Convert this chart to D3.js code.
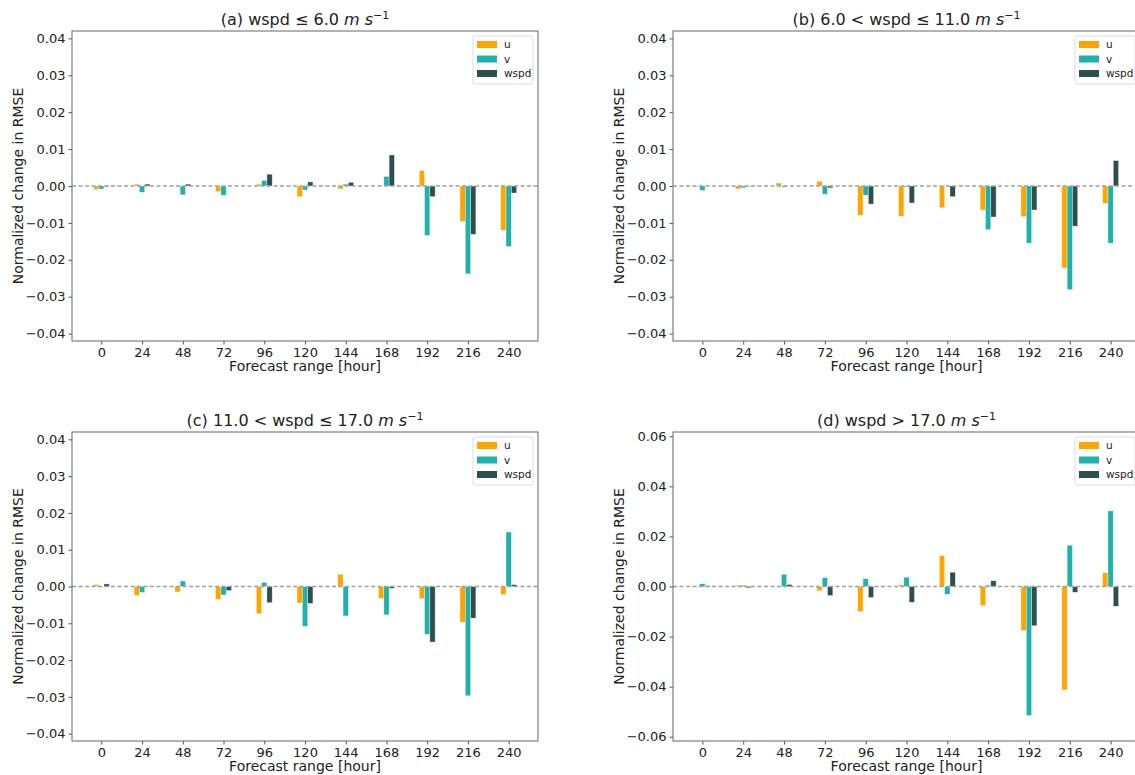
<!DOCTYPE html>
<html lang="en">
<head>
    <meta charset="utf8">
    <title>Normalized change in RMSE</title>
    <script src="https://d3js.org/d3.v7.min.js"></script>
    <style>
        body { margin: 0; background: #fff; }
        svg { display: block; font-family: "DejaVu Sans", sans-serif; }
    </style>
</head>
<body>
    <svg id="chart" width="1135" height="775"></svg>
    <script>
        // forecast hours (categories) and series names
        const hours = [0, 24, 48, 72, 96, 120, 144, 168, 192, 216, 240];
        const seriesNames = ["u", "v", "wspd"];
        const seriesColors = ["#ffa500", "#20b2aa", "#2f4f4f"];

        // (a) wspd <= 6
        const aU    = [-0.0009, 0.0005, -0.0001, -0.0015, 0.0005, -0.0029, -0.0008, 0.0001, 0.0042, -0.0096, -0.0120];
        const aV    = [-0.0008, -0.0017, -0.0024, -0.0025, 0.0015, -0.0011, 0.0005, 0.0026, -0.0134, -0.0238, -0.0164];
        const aWspd = [-0.0001, 0.0005, 0.0005, 0.0000, 0.0032, 0.0011, 0.0010, 0.0084, -0.0029, -0.0131, -0.0019];
        // (b) 6 < wspd <= 11
        const bU    = [-0.0002, -0.0008, 0.0008, 0.0013, -0.0079, -0.0082, -0.0059, -0.0065, -0.0083, -0.0222, -0.0047];
        const bV    = [-0.0012, -0.0005, -0.0003, -0.0022, -0.0025, -0.0003, 0.0000, -0.0118, -0.0155, -0.0281, -0.0155];
        const bWspd = [0.0000, -0.0001, 0.0000, -0.0005, -0.0049, -0.0046, -0.0029, -0.0084, -0.0065, -0.0109, 0.0069];
        // (c) 11 < wspd <= 17
        const cU    = [0.0005, -0.0024, -0.0015, -0.0035, -0.0074, -0.0045, 0.0033, -0.0032, -0.0033, -0.0097, -0.0022];
        const cV    = [0.0001, -0.0016, 0.0015, -0.0023, 0.0011, -0.0108, -0.0080, -0.0077, -0.0130, -0.0297, 0.0148];
        const cWspd = [0.0007, -0.0001, 0.0000, -0.0011, -0.0044, -0.0046, 0.0000, -0.0005, -0.0151, -0.0086, 0.0005];
        // (d) wspd > 17
        const dU    = [0.0001, 0.0005, 0.0000, -0.0017, -0.0100, 0.0007, 0.0123, -0.0077, -0.0176, -0.0413, 0.0055];
        const dV    = [0.0011, 0.0005, 0.0049, 0.0035, 0.0031, 0.0037, -0.0031, 0.0005, -0.0515, 0.0165, 0.0302];
        const dWspd = [0.0003, -0.0005, 0.0008, -0.0036, -0.0044, -0.0063, 0.0057, 0.0023, -0.0157, -0.0023, -0.0079];

        const ticksSmall = [-0.04, -0.03, -0.02, -0.01, 0, 0.01, 0.02, 0.03, 0.04];
        const ticksLarge = [-0.06, -0.04, -0.02, 0, 0.02, 0.04, 0.06];

        const panels = [
            { pre: "(a) wspd ≤ 6.0 ", series: [aU, aV, aWspd], lim: 0.042, ticks: ticksSmall,
              left: 72, top: 31, w: 466, h: 310 },
            { pre: "(b) 6.0 < wspd ≤ 11.0 ", series: [bU, bV, bWspd], lim: 0.042, ticks: ticksSmall,
              left: 673, top: 31, w: 467, h: 310 },
            { pre: "(c) 11.0 < wspd ≤ 17.0 ", series: [cU, cV, cWspd], lim: 0.042, ticks: ticksSmall,
              left: 72, top: 432, w: 466, h: 309 },
            { pre: "(d) wspd > 17.0 ", series: [dU, dV, dWspd], lim: 0.0617, ticks: ticksLarge,
              left: 673, top: 432, w: 467, h: 309 }
        ];

        const svg = d3.select("#chart");
        const barW = 0.13;
        const fmt = d3.format(".2f");

        panels.forEach(p => {
            const g = svg.append("g").attr("transform", `translate(${p.left},${p.top})`);

            const x = d3.scaleLinear().domain([-0.72, hours.length - 1 + 0.72]).range([0, p.w]);
            const y = d3.scaleLinear().domain([-p.lim, p.lim]).range([p.h, 0]);

            // bars
            p.series.forEach((vals, k) => {
                g.append("g").selectAll("rect")
                    .data(vals)
                    .join("rect")
                    .attr("x", (d, i) => x(i + (k - 1) * barW - barW / 2))
                    .attr("width", x(barW) - x(0))
                    .attr("y", d => y(Math.max(0, d)))
                    .attr("height", d => Math.abs(y(d) - y(0)))
                    .attr("fill", seriesColors[k])
                    .attr("stroke", "#fff")
                    .attr("stroke-opacity", 0.6)
                    .attr("stroke-width", 0.6);
            });

            // zero line
            g.append("line")
                .attr("x1", 0).attr("x2", p.w)
                .attr("y1", y(0)).attr("y2", y(0))
                .attr("stroke", "#a0a0a0")
                .attr("stroke-width", 1.5)
                .attr("stroke-dasharray", "4,2.5");

            // axes
            const xAxis = g.append("g")
                .attr("transform", `translate(0,${p.h})`)
                .call(d3.axisBottom(x).tickValues(d3.range(hours.length))
                    .tickFormat(i => hours[i]).tickSize(3.5).tickPadding(3));
            const yAxis = g.append("g")
                .call(d3.axisLeft(y).tickValues(p.ticks).tickFormat(fmt).tickSize(3.5).tickPadding(3));
            [xAxis, yAxis].forEach(a => {
                a.select(".domain").remove();
                a.selectAll("line").attr("stroke", "#555");
                a.selectAll("text").attr("fill", "#222").style("font-size", "13px")
                    .style("font-family", "DejaVu Sans, sans-serif");
            });

            // frame
            g.append("rect")
                .attr("width", p.w).attr("height", p.h)
                .attr("fill", "none")
                .attr("stroke", "#666")
                .attr("stroke-width", 1);

            // title
            const t = g.append("text")
                .attr("x", p.w / 2).attr("y", -6)
                .attr("text-anchor", "middle")
                .attr("fill", "#222")
                .style("font-size", "16px");
            t.append("tspan").text(p.pre);
            t.append("tspan").attr("font-style", "italic").text("m s");
            t.append("tspan").attr("dy", -6).style("font-size", "11px").text("−1");

            // axis labels
            g.append("text")
                .attr("x", p.w / 2).attr("y", p.h + 30)
                .attr("text-anchor", "middle")
                .attr("fill", "#222")
                .style("font-size", "14px")
                .text("Forecast range [hour]");
            g.append("text")
                .attr("transform", `translate(-54,${p.h / 2}) rotate(-90)`)
                .attr("text-anchor", "middle")
                .attr("dy", "0.35em")
                .attr("fill", "#222")
                .style("font-size", "14px")
                .text("Normalized change in RMSE");

            // legend
            const lg = g.append("g").attr("transform", `translate(${p.w - 65},5)`);
            lg.append("rect")
                .attr("width", 60).attr("height", 48).attr("rx", 2)
                .attr("fill", "#fff").attr("fill-opacity", 0.8)
                .attr("stroke", "#ddd");
            seriesNames.forEach((name, k) => {
                lg.append("rect")
                    .attr("x", 4).attr("y", 5 + k * 14.5)
                    .attr("width", 20).attr("height", 7)
                    .attr("fill", seriesColors[k]);
                lg.append("text")
                    .attr("x", 31).attr("y", 8.5 + k * 14.5)
                    .attr("dy", "0.35em")
                    .attr("fill", "#222")
                    .style("font-size", "10.5px")
                    .text(name);
            });
        });
    </script>
</body>
</html>
